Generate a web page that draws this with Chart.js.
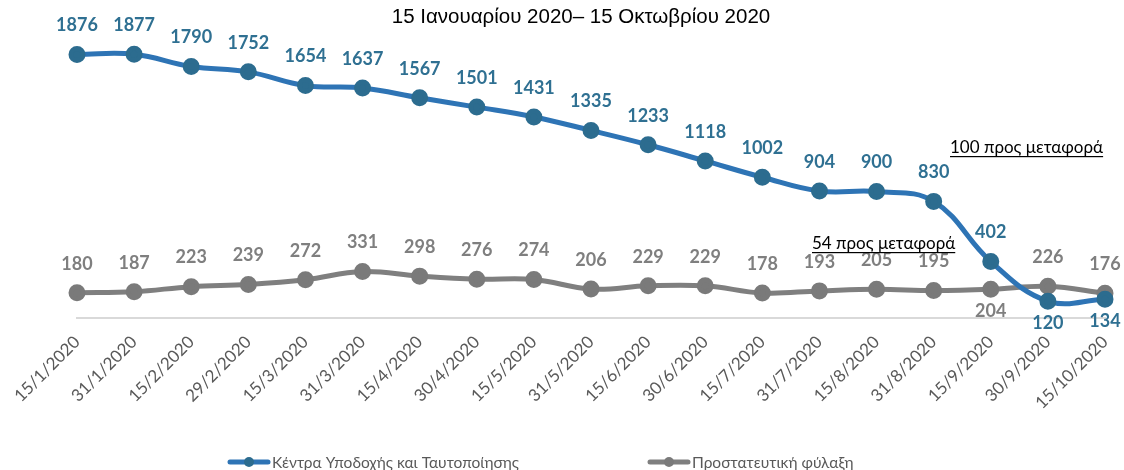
<!DOCTYPE html>
<html>
<head>
<meta charset="utf-8">
<script src="https://cdn.jsdelivr.net/npm/chart.js@4"></script>
<style>
  html, body { margin: 0; padding: 0; background: #fff; }
  #wrap { width: 1124px; height: 470px; }
</style>
</head>
<body>
<div id="wrap"><canvas id="chart" width="1124" height="470"></canvas></div>
<script>
// Data
const dates = ['15/1/2020', '31/1/2020', '15/2/2020', '29/2/2020', '15/3/2020', '31/3/2020',
  '15/4/2020', '30/4/2020', '15/5/2020', '31/5/2020', '15/6/2020', '30/6/2020',
  '15/7/2020', '31/7/2020', '15/8/2020', '31/8/2020', '15/9/2020', '30/9/2020', '15/10/2020'];
const rics = [1876, 1877, 1790, 1752, 1654, 1637, 1567, 1501, 1431, 1335, 1233, 1118,
  1002, 904, 900, 830, 402, 120, 134];
const custody = [180, 187, 223, 239, 272, 331, 298, 276, 274, 206, 229, 229,
  178, 193, 205, 195, 204, 226, 176];
// which labels sit under the point
const ricsBelow = [17, 18];
const custodyBelow = [16];

const subtitle = '15 Ιανουαρίου 2020– 15 Οκτωβρίου 2020';
const legendNames = ['Κέντρα Υποδοχής και Ταυτοποίησης', 'Προστατευτική φύλαξη'];

const BLUE = '#2E74B5', BLUE_DOT = '#2C6C8F', BLUE_TXT = '#2F7092';
const GREY = '#7F7F7F', GREY_DOT = '#7A7A7A', GREY_TXT = '#7F7F7F';
const FONT = 'Lato, "Open Sans", sans-serif';

// value labels + notes + legend, drawn on top
const extras = {
  id: 'extras',
  afterDatasetsDraw(chart) {
    const ctx = chart.ctx;
    ctx.save();
    ctx.font = 'bold 18px ' + FONT;
    ctx.textAlign = 'center';
    ctx.textBaseline = 'middle';
    const sets = [[0, BLUE_TXT, ricsBelow], [1, GREY_TXT, custodyBelow]];
    sets.forEach(([i, col, below]) => {
      const meta = chart.getDatasetMeta(i);
      ctx.fillStyle = col;
      meta.data.forEach((pt, j) => {
        const v = chart.data.datasets[i].data[j];
        const y = below.includes(j) ? pt.y + 22 : pt.y - 29;
        ctx.fillText(String(v), pt.x, y);
      });
    });

    // notes
    ctx.font = '17px ' + FONT;
    ctx.fillStyle = '#000';
    ctx.textBaseline = 'alphabetic';
    ctx.textAlign = 'left';
    const notes = [['100 προς μεταφορά', 950, 153], ['54 προς μεταφορά', 812, 249]];
    notes.forEach(([t, x, y]) => {
      ctx.fillText(t, x, y);
      const w = ctx.measureText(t).width;
      ctx.fillRect(x, y + 3, w, 1.2);
    });

    // subtitle
    ctx.font = '20.5px "Liberation Sans", Arial, sans-serif';
    ctx.textAlign = 'center';
    ctx.textBaseline = 'middle';
    ctx.fillText(subtitle, 581, 17);

    // legend
    ctx.font = '15.5px ' + FONT;
    ctx.textAlign = 'left';
    const leg = [[228, BLUE, BLUE_DOT], [648, GREY, GREY_DOT]];
    leg.forEach(([x, c, d], k) => {
      const y = 462;
      ctx.strokeStyle = c;
      ctx.lineWidth = 5;
      ctx.lineCap = 'round';
      ctx.beginPath(); ctx.moveTo(x + 2, y); ctx.lineTo(x + 40, y); ctx.stroke();
      ctx.fillStyle = d;
      ctx.beginPath(); ctx.arc(x + 21, y, 5, 0, Math.PI * 2); ctx.fill();
      ctx.fillStyle = '#595959';
      ctx.fillText(legendNames[k], x + 44, y + 1);
    });
    ctx.restore();
  }
};

new Chart(document.getElementById('chart'), {
  type: 'line',
  data: {
    labels: dates,
    datasets: [{
      label: legendNames[0],
      data: rics,
      borderColor: BLUE,
      backgroundColor: BLUE_DOT,
      pointBackgroundColor: BLUE_DOT,
      pointBorderColor: BLUE_DOT,
      borderWidth: 5,
      pointRadius: 6,
      tension: 0.4
    }, {
      label: legendNames[1],
      data: custody,
      borderColor: GREY,
      backgroundColor: GREY_DOT,
      pointBackgroundColor: GREY_DOT,
      pointBorderColor: GREY_DOT,
      borderWidth: 5,
      pointRadius: 6,
      tension: 0.4
    }]
  },
  options: {
    responsive: false,
    animation: false,
    layout: { padding: { left: 77, right: 19, top: 37, bottom: 52 } },
    plugins: {
      legend: { display: false },
      title: { display: false },
      tooltip: { enabled: false }
    },
    scales: {
      y: { display: false, min: 0, max: 2000 },
      x: {
        offset: false,
        grid: { display: false, drawTicks: false },
        border: { color: '#D9D9D9', width: 2 },
        afterFit(scale) {
          scale.height = 100;
          scale.paddingLeft = 0;
          scale.paddingRight = 0;
        },
        ticks: {
          color: '#595959',
          font: { family: FONT, size: 17 },
          minRotation: 45,
          maxRotation: 45,
          autoSkip: false,
          padding: 14
        }
      }
    }
  },
  plugins: [extras]
});
</script>
</body>
</html>
